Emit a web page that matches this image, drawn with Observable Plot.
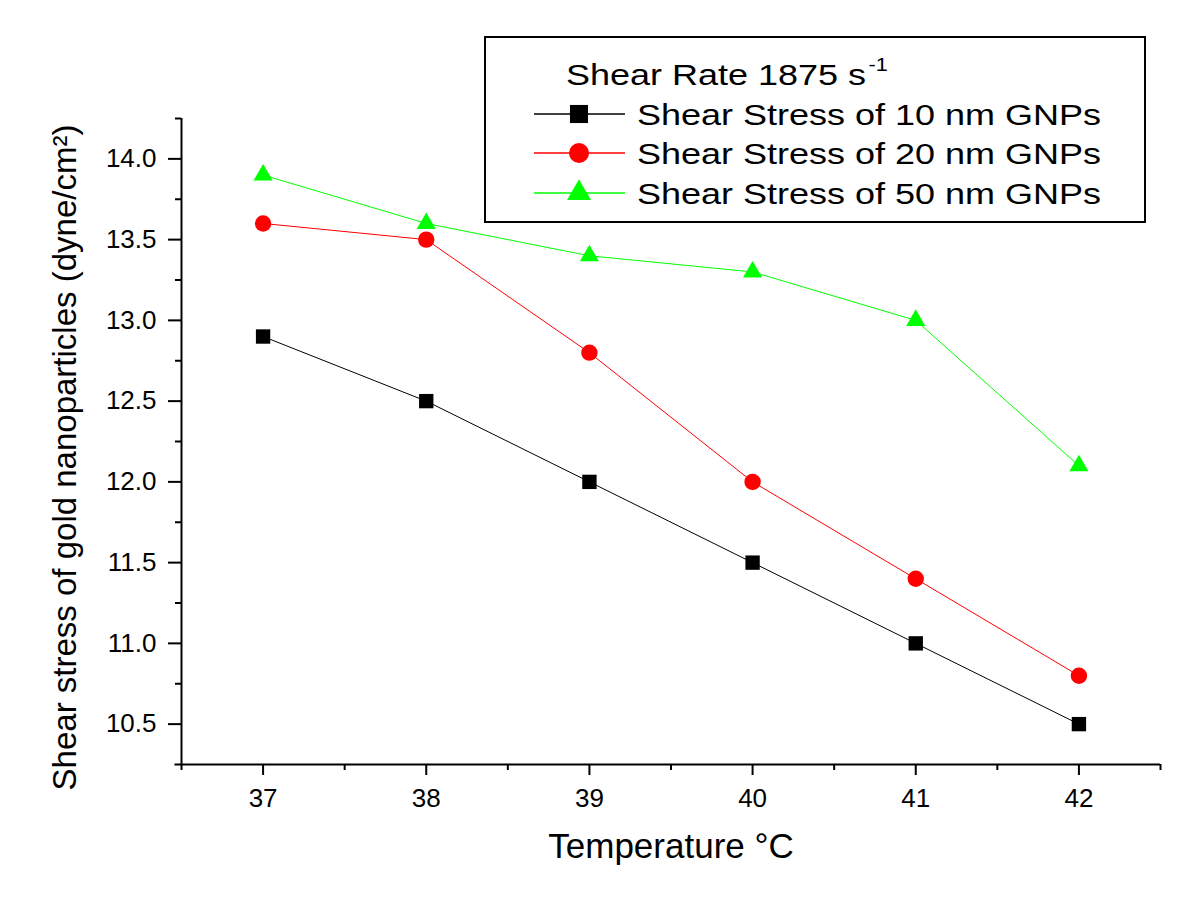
<!DOCTYPE html>
<html>
<head>
<meta charset="utf-8">
<script src="https://cdn.jsdelivr.net/npm/d3@7"></script>
<script src="https://cdn.jsdelivr.net/npm/@observablehq/plot@0.6"></script>
<style>
  html, body { margin: 0; padding: 0; background: #fff; }
  #chart { width: 1200px; height: 899px; }
  svg { font-family: "Liberation Sans", Arial, sans-serif; }
</style>
</head>
<body>
<div id="chart"></div>
<script>
const temps = [37, 38, 39, 40, 41, 42];
const stress10 = [12.9, 12.5, 12.0, 11.5, 11.0, 10.5];
const stress20 = [13.6, 13.5, 12.8, 12.0, 11.4, 10.8];
const stress50 = [13.9, 13.6, 13.4, 13.3, 13.0, 12.1];
const seriesNames = ["Shear Stress of 10 nm GNPs", "Shear Stress of 20 nm GNPs", "Shear Stress of 50 nm GNPs"];
const seriesColors = ["#000000", "#ff0000", "#00ff00"];
const seriesSymbols = ["square", "circle", "triangle"];
const xTicks = [37, 38, 39, 40, 41, 42];
const xMinorTicks = [36.5, 37.5, 38.5, 39.5, 40.5, 41.5, 42.5];
const yTicks = [10.5, 11.0, 11.5, 12.0, 12.5, 13.0, 13.5, 14.0];
const yMinorTicks = [10.75, 11.25, 11.75, 12.25, 12.75, 13.25, 13.75, 14.25];
const xLabel = "Temperature °C";
const yLabel = "Shear stress of gold nanoparticles (dyne/cm²)";
const legendTitle = "Shear Rate 1875 s";
const legendTitleSup = "-1";

const allSeries = [stress10, stress20, stress50];
const rows = allSeries.map((vals, i) => temps.map((t, j) => ({temp: t, stress: vals[j], series: seriesNames[i]})));

const markR = [8.1, 8.2, 7.1];
const legendR = [10.2, 10, 8.9];
const marks = [];
rows.forEach((data, i) => {
  marks.push(Plot.line(data, {x: "temp", y: "stress", stroke: seriesColors[i], strokeWidth: 1}));
});
rows.forEach((data, i) => {
  marks.push(Plot.dot(data, {x: "temp", y: "stress", fill: seriesColors[i], symbol: seriesSymbols[i], r: markR[i], stroke: "none"}));
});

const plot = Plot.plot({
  width: 1200,
  height: 899,
  marginLeft: 181,
  marginRight: 40,
  marginTop: 118,
  marginBottom: 135,
  style: {fontFamily: "'Liberation Sans', Arial, sans-serif", background: "#fff", color: "#000"},
  x: {domain: [36.5, 42.5]},
  y: {domain: [10.25, 14.25]},
  marks: [
    Plot.ruleX([36.5], {stroke: "#000", strokeWidth: 2, y1: 10.25, y2: 14.25}),
    Plot.ruleY([10.25], {stroke: "#000", strokeWidth: 2, x1: 36.46, x2: 42.5}),
    Plot.axisX({ticks: xTicks, tickSize: 11, tickPadding: 13, fontSize: 26, tickFormat: d => String(d), label: null, strokeWidth: 2}),
    Plot.axisX({ticks: xMinorTicks, tickSize: 6, tickFormat: null, text: null, label: null, strokeWidth: 2}),
    Plot.axisY({ticks: yTicks, tickSize: 13, tickPadding: 12, fontSize: 26, tickFormat: d3.format(".1f"), label: null, strokeWidth: 2}),
    Plot.axisY({ticks: yMinorTicks, tickSize: 6, text: null, label: null, strokeWidth: 2}),
    Plot.text([xLabel], {frameAnchor: "bottom", lineAnchor: "middle", dy: 82, fontSize: 35, fill: "#000", textAnchor: "middle"}),
    Plot.text([yLabel], {frameAnchor: "left", rotate: -90, dx: -116, dy: 16, fontSize: 33, fill: "#000", textAnchor: "middle"}),
    ...marks
  ]
});
document.getElementById("chart").appendChild(plot);

// Legend box
const svg = d3.select(plot);
const lg = svg.append("g").attr("font-family", "'Liberation Sans', Arial, sans-serif").attr("text-anchor", "start");
lg.append("rect").attr("x", 485).attr("y", 37).attr("width", 660).attr("height", 185)
  .attr("fill", "#fff").attr("stroke", "#000").attr("stroke-width", 2);
const title = lg.append("text").attr("transform", "translate(566,85) scale(1.2,1)").attr("font-size", 30).attr("fill", "#000");
title.append("tspan").text(legendTitle);
title.append("tspan").attr("font-size", 18).attr("dy", -14).attr("dx", 2).text(legendTitleSup);
const rowY = [114, 153, 193];
const symbolMap = {square: d3.symbolSquare, circle: d3.symbolCircle, triangle: d3.symbolTriangle};
seriesNames.forEach((name, i) => {
  const y = rowY[i];
  lg.append("line").attr("x1", 534).attr("x2", 625).attr("y1", y).attr("y2", y)
    .attr("stroke", seriesColors[i]).attr("stroke-width", 1.5);
  lg.append("path").attr("d", d3.symbol(symbolMap[seriesSymbols[i]], Math.PI * legendR[i] * legendR[i])())
    .attr("transform", `translate(579,${y})`).attr("fill", seriesColors[i]);
  lg.append("text").attr("transform", `translate(637,${y + 11}) scale(1.2,1)`).attr("font-size", 30)
    .attr("fill", "#000").text(name);
});
</script>
</body>
</html>
